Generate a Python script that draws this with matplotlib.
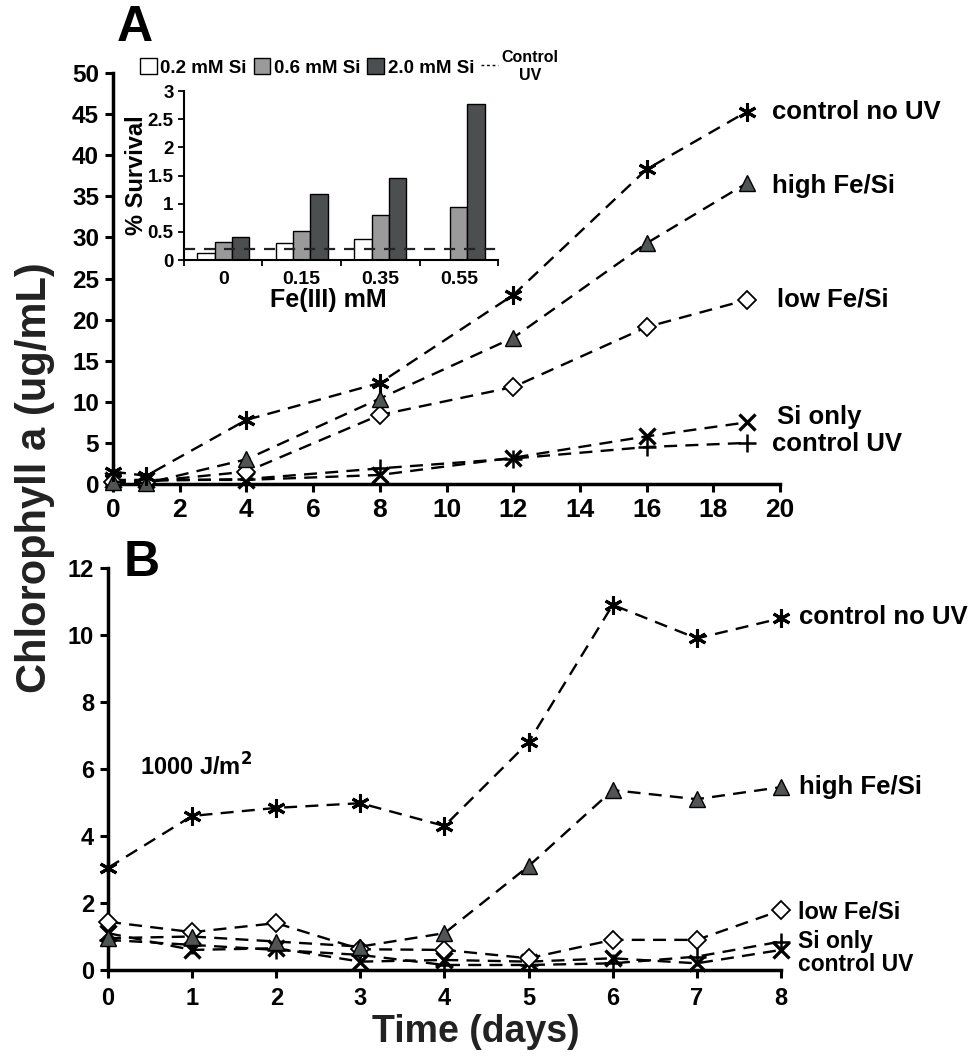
import numpy as np
import matplotlib
matplotlib.use("Agg")
from matplotlib import pyplot as plt
from matplotlib.patches import Patch
from matplotlib.lines import Line2D

plt.rcParams['font.family'] = ['Liberation Sans', 'DejaVu Sans']
plt.rcParams['font.weight'] = 'bold'

# %% panel A: growth after UV, long run (days)
days_A = [0, 1, 4, 8, 12, 16, 19]
ctrl_noUV_A = [1.5, 1.0, 7.8, 12.3, 23.0, 38.3, 45.3]
high_FeSi_A = [0.3, 0.1, 3.0, 10.4, 17.8, 29.3, 36.6]
low_FeSi_A = [0.2, 0.3, 1.5, 8.4, 11.8, 19.1, 22.4]
si_only_A = [0.5, 0.5, 0.5, 1.1, 3.2, 5.8, 7.5]
ctrl_UV_A = [0.3, 0.4, 0.6, 1.9, 3.1, 4.5, 5.0]

# %% panel B: 1000 J/m2, first 8 days
days_B = [0, 1, 2, 3, 4, 5, 6, 7, 8]
ctrl_noUV_B = [3.05, 4.6, 4.84, 4.98, 4.3, 6.8, 10.9, 9.9, 10.5]
high_FeSi_B = [0.95, 1.0, 0.85, 0.7, 1.1, 3.1, 5.37, 5.1, 5.46]
low_FeSi_B = [1.44, 1.13, 1.4, 0.62, 0.6, 0.35, 0.9, 0.9, 1.78]
si_only_B = [1.1, 0.6, 0.65, 0.25, 0.3, 0.25, 0.35, 0.2, 0.6]
ctrl_UV_B = [0.9, 0.75, 0.6, 0.45, 0.15, 0.15, 0.2, 0.4, 0.85]

series_names = ['control no UV', 'high Fe/Si', 'low Fe/Si', 'Si only', 'control UV']

# %% inset: % survival vs Fe(III)
fe_levels = ['0', '0.15', '0.35', '0.55']
surv_si02 = [0.12, 0.30, 0.37, 0.0]
surv_si06 = [0.32, 0.52, 0.80, 0.94]
surv_si20 = [0.40, 1.17, 1.45, 2.77]
surv_ctrl_uv = 0.19
si_names = ['0.2 mM Si', '0.6 mM Si', '2.0 mM Si']

# label anchors (data coords)
lab_A_x = [19.75, 19.75, 19.9, 19.9, 19.75]
lab_A_y = [45.3, 36.2, 22.4, 8.1, 4.9]
lab_B_x = [8.22, 8.22, 8.2, 8.2, 8.2]
lab_B_y = [10.54, 5.46, 1.73, 0.84, 0.16]
lab_B_size = [18.5, 18.5, 17, 16.5, 16.5]

# %% styles
DASH = (0, (5.5, 3.5))
styles = [
    dict(marker=(6, 2, 0), ms=13, mew=2.2, mfc='k', mec='k'),
    dict(marker='^', ms=12, mew=1.0, mfc='#505454', mec='k'),
    dict(marker='D', ms=9, mew=1.3, mfc='white', mec='k'),
    dict(marker='x', ms=11, mew=2.4, mfc='k', mec='k'),
    dict(marker='+', ms=13, mew=1.8, mfc='k', mec='k'),
]


def style_axes(ax, xsize, ysize):
    for s in ['top', 'right']:
        ax.spines[s].set_visible(False)
    for s in ['left', 'bottom']:
        ax.spines[s].set_linewidth(2.5)
    ax.tick_params(width=2.2, length=6, direction='out', labelsize=ysize, pad=4)
    ax.tick_params(axis='x', labelsize=xsize)
    for lab in ax.get_xticklabels() + ax.get_yticklabels():
        lab.set_fontweight('bold')


fig = plt.figure(figsize=(9.74, 10.57), dpi=100)

# %% Panel A
axA = fig.add_axes([0.116, 0.5421, 0.685, 0.3888])
data_A = [ctrl_noUV_A, high_FeSi_A, low_FeSi_A, si_only_A, ctrl_UV_A]
for ys, st in zip(data_A[::-1], styles[::-1]):
    axA.plot(days_A, ys, color='k', lw=1.7, ls=DASH, clip_on=False, zorder=3, **st)
axA.set_xlim(0, 20)
axA.set_ylim(0, 50)
axA.set_xticks(np.arange(0, 21, 2))
axA.set_yticks(np.arange(0, 51, 5))
style_axes(axA, 19, 17.5)
for name, x, y in zip(series_names, lab_A_x, lab_A_y):
    axA.text(x, y, name, fontsize=18.5, fontweight='bold', va='center', ha='left')

# %% Panel B
axB = fig.add_axes([0.1109, 0.0823, 0.6909, 0.3803])
data_B = [ctrl_noUV_B, high_FeSi_B, low_FeSi_B, si_only_B, ctrl_UV_B]
for ys, st in zip(data_B[::-1], styles[::-1]):
    axB.plot(days_B, ys, color='k', lw=1.7, ls=DASH, clip_on=False, zorder=3, **st)
axB.set_xlim(0, 8)
axB.set_ylim(0, 12)
axB.set_xticks(days_B)
axB.set_yticks(np.arange(0, 13, 2))
style_axes(axB, 17, 17)
axB.tick_params(axis='x', pad=6)
for name, x, y, fs in zip(series_names, lab_B_x, lab_B_y, lab_B_size):
    axB.text(x, y, name, fontsize=fs, fontweight='bold', va='center', ha='left')
axB.text(0.38, 6.06, '1000 J/m$^\\mathbf{2}$', fontsize=17, fontweight='bold',
         va='center', ha='left')

# %% Inset
axI = fig.add_axes([0.1889, 0.754, 0.3224, 0.1599])
xpos = np.arange(len(fe_levels))
bw = 0.22
bar_cols = ['white', '#9a9a9a', '#4b4f4f']
for k, (vals, col) in enumerate(zip([surv_si02, surv_si06, surv_si20], bar_cols)):
    axI.bar(xpos + (k - 1) * bw, vals, width=bw, color=col, edgecolor='k', lw=1.0, zorder=2)
axI.axhline(surv_ctrl_uv, color='#222222', lw=1.6, ls=(0, (5, 4)), zorder=3)
axI.set_xlim(-0.5, 3.5)
axI.set_ylim(0, 3)
axI.set_yticks([0, 0.5, 1, 1.5, 2, 2.5, 3])
axI.set_yticklabels(['0', '0.5', '1', '1.5', '2', '2.5', '3'])
axI.set_xticks(np.arange(-0.5, 3.6, 1))
axI.set_xticklabels([])
axI.set_xticks(xpos, minor=True)
axI.set_xticklabels(fe_levels, minor=True)
for s in ['top', 'right']:
    axI.spines[s].set_visible(False)
for s in ['left', 'bottom']:
    axI.spines[s].set_linewidth(1.5)
axI.tick_params(axis='both', which='major', width=1.3, length=4, labelsize=13.5)
axI.tick_params(axis='x', which='minor', length=0, labelsize=14, pad=8)
for lab in axI.get_xticklabels(minor=True) + axI.get_yticklabels():
    lab.set_fontweight('bold')
axI.set_xlabel('Fe(III) mM', fontsize=18, fontweight='bold', labelpad=0)
axI.xaxis.set_label_coords(0.46, -0.165)
axI.set_ylabel('% Survival', fontsize=17, fontweight='bold', labelpad=0)

handles = [Patch(facecolor=c, edgecolor='k', lw=1.0) for c in bar_cols]
handles.append(Line2D([], [], color='k', lw=1.0, ls=(0, (2, 2))))
leg = fig.legend(handles, si_names + ['Control\nUV'], loc='upper left',
                 bbox_to_anchor=(0.132, 0.963), ncol=4, frameon=False,
                 fontsize=13.5, handlelength=0.9, handleheight=0.9,
                 handletextpad=0.2, columnspacing=0.35, borderpad=0.1)
for t in leg.get_texts():
    t.set_fontweight('bold')
leg.get_texts()[3].set_fontsize(11.5)
leg.get_texts()[3].set_horizontalalignment('center')

# %% panel letters and shared labels
fig.text(0.1386, 0.9735, 'A', fontsize=36, fontweight='bold', ha='center', va='center')
fig.text(0.1458, 0.4674, 'B', fontsize=36, fontweight='bold', ha='center', va='center')
fig.text(0.036, 0.548, 'Chlorophyll a (ug/mL)', rotation=90, fontsize=30,
         fontweight='bold', ha='center', va='center', color='#222222')
fig.text(0.489, 0.0142, 'Time (days)', fontsize=27, fontweight='bold',
         ha='center', va='baseline', color='#222222')

fig.savefig('out.png', dpi=100)
